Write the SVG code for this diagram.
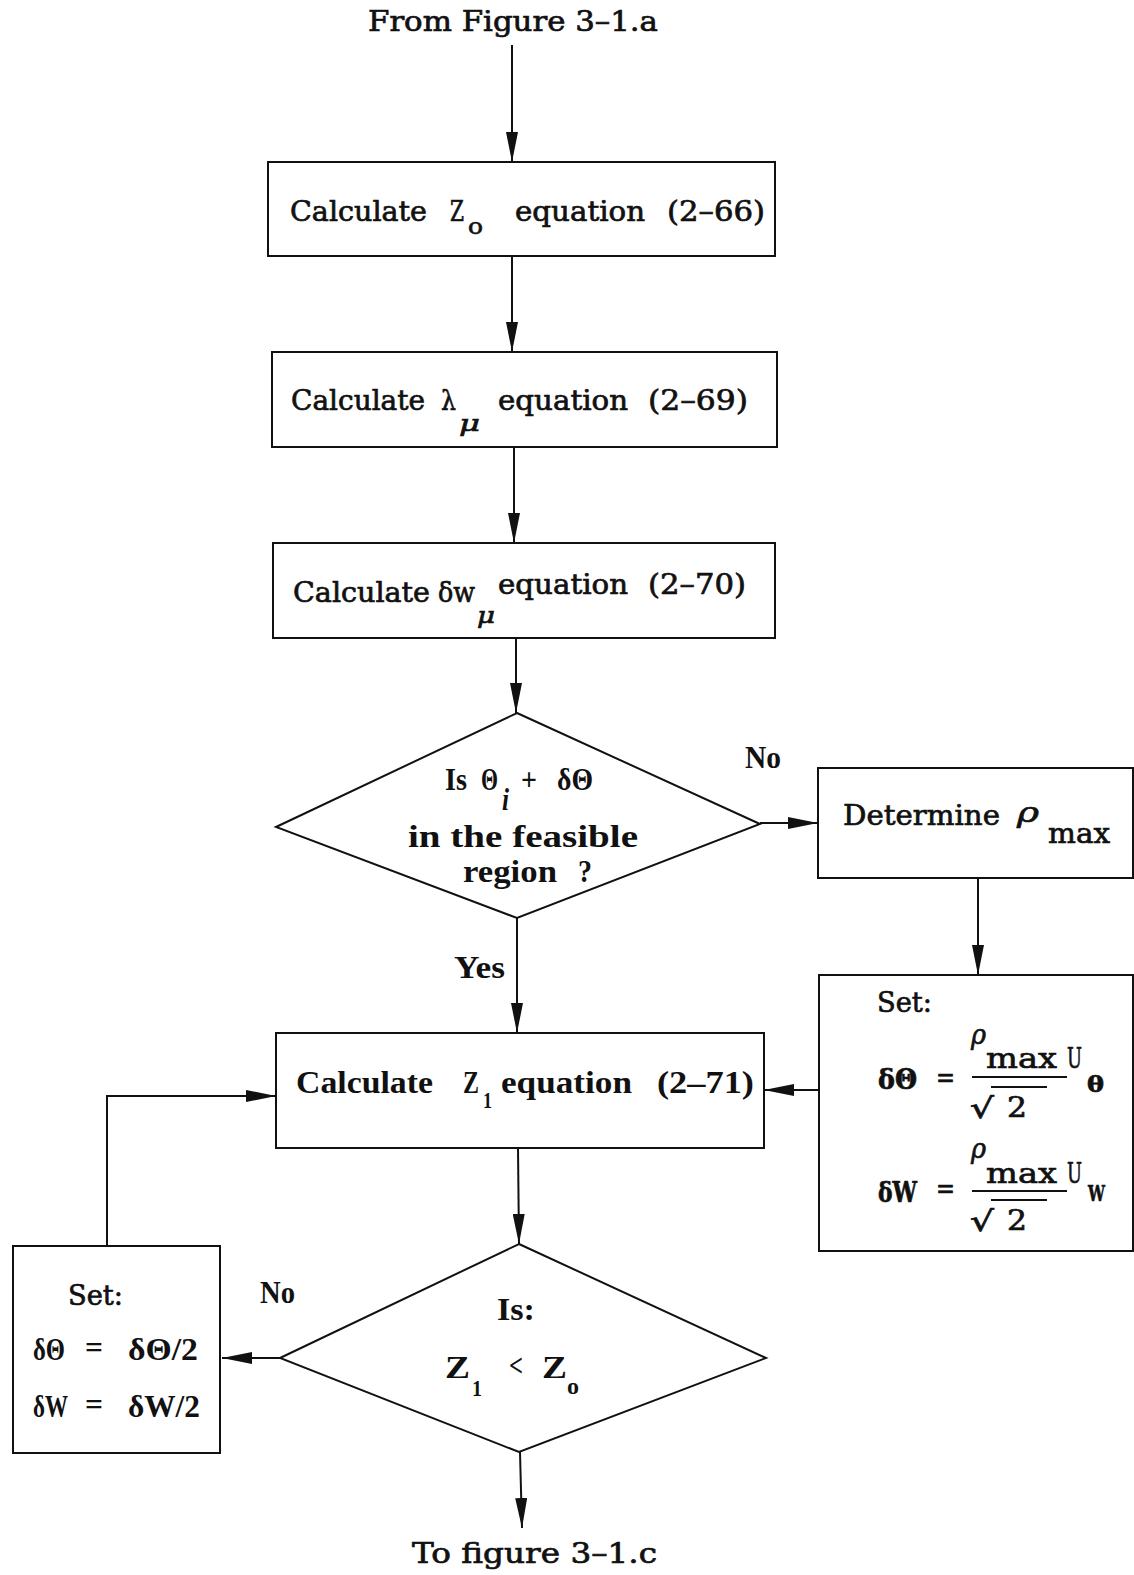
<svg xmlns="http://www.w3.org/2000/svg" width="1134" height="1575" viewBox="0 0 1134 1575">
<style>
.box{fill:#fff;stroke:#111;stroke-width:2}
.ln{fill:none;stroke:#111;stroke-width:2}
.arr{fill:none;stroke:#111;stroke-width:2;marker-end:url(#ah)}
.t{font-family:"DejaVu Serif",serif;font-size:28px;fill:#111;stroke:#111;stroke-width:0.7}
.c{font-family:"Liberation Serif",serif;font-weight:bold;font-size:31px;fill:#111}
.sub{font-size:23px}
.it{font-style:italic}
.b{font-weight:bold}
</style>
<defs>
<marker id="ah" markerUnits="userSpaceOnUse" viewBox="0 0 30 12" refX="30" refY="6" markerWidth="30" markerHeight="12" orient="auto">
<path d="M0,0 L30,6 L0,12 z" fill="#111"/>
</marker>
</defs>
<rect width="1134" height="1575" fill="#fff"/>

<g id="connectors">
<line class="arr" x1="512" y1="45" x2="512" y2="162"/>
<line class="arr" x1="512" y1="256" x2="512" y2="352"/>
<line class="arr" x1="514" y1="447" x2="514" y2="543"/>
<line class="arr" x1="516" y1="638" x2="516" y2="713"/>
<line class="arr" x1="760" y1="823" x2="818" y2="823"/>
<line class="arr" x1="978" y1="878" x2="978" y2="975"/>
<line class="arr" x1="819" y1="1090" x2="764" y2="1090"/>
<line class="arr" x1="517" y1="918" x2="517" y2="1033"/>
<line class="arr" x1="518" y1="1148" x2="519" y2="1244"/>
<line class="arr" x1="280" y1="1358" x2="222" y2="1358"/>
<polyline class="arr" points="107,1246 107,1096 276,1096"/>
<line class="arr" x1="520" y1="1452" x2="522" y2="1528"/>
<text class="c" x="745" y="768" textLength="36" lengthAdjust="spacingAndGlyphs">No</text>
<text class="c" x="454" y="978" textLength="51" lengthAdjust="spacingAndGlyphs">Yes</text>
<text class="c" x="260" y="1303" textLength="35" lengthAdjust="spacingAndGlyphs">No</text>
</g>

<g id="from">
<text class="t" x="368" y="31" textLength="290" lengthAdjust="spacingAndGlyphs">From Figure 3–1.a</text>
</g>

<g id="calc-z0">
<rect class="box" x="268" y="162" width="507" height="94"/>
<text class="t" x="290" y="221" textLength="137" lengthAdjust="spacingAndGlyphs">Calculate</text>
<text class="t" x="450" y="221" textLength="14" lengthAdjust="spacingAndGlyphs">Z</text>
<text class="t sub" x="468" y="234" textLength="15" lengthAdjust="spacingAndGlyphs">o</text>
<text class="t" x="515" y="221" textLength="130" lengthAdjust="spacingAndGlyphs">equation</text>
<text class="t" x="667" y="221" textLength="98" lengthAdjust="spacingAndGlyphs">(2–66)</text>
</g>

<g id="calc-lambda">
<rect class="box" x="272" y="352" width="505" height="95"/>
<text class="t" x="291" y="410" textLength="134" lengthAdjust="spacingAndGlyphs">Calculate</text>
<text class="t" x="441" y="410" textLength="15" lengthAdjust="spacingAndGlyphs">λ</text>
<text class="t sub it" x="459" y="431" textLength="21" lengthAdjust="spacingAndGlyphs">μ</text>
<text class="t" x="498" y="410" textLength="130" lengthAdjust="spacingAndGlyphs">equation</text>
<text class="t" x="648" y="410" textLength="100" lengthAdjust="spacingAndGlyphs">(2–69)</text>
</g>

<g id="calc-dw">
<rect class="box" x="273" y="543" width="502" height="95"/>
<text class="t" x="293" y="602" textLength="137" lengthAdjust="spacingAndGlyphs">Calculate</text>
<text class="t" x="438" y="602" textLength="37" lengthAdjust="spacingAndGlyphs">δw</text>
<text class="t sub it" x="477" y="623" textLength="18" lengthAdjust="spacingAndGlyphs">μ</text>
<text class="t" x="498" y="594" textLength="130" lengthAdjust="spacingAndGlyphs">equation</text>
<text class="t" x="648" y="594" textLength="98" lengthAdjust="spacingAndGlyphs">(2–70)</text>
</g>

<g id="feasible">
<polygon class="box" points="517,713 760,824 517,918 276,827"/>
<text class="c" x="445" y="790" textLength="22" lengthAdjust="spacingAndGlyphs">Is</text>
<text class="c" x="481" y="790" textLength="17" lengthAdjust="spacingAndGlyphs">Θ</text>
<text class="c it" x="502" y="810" font-size="20" textLength="7" lengthAdjust="spacingAndGlyphs">i</text>
<text class="c" x="521" y="790" textLength="16" lengthAdjust="spacingAndGlyphs">+</text>
<text class="c" x="557" y="790" textLength="36" lengthAdjust="spacingAndGlyphs">δΘ</text>
<text class="c" x="408" y="847" textLength="230" lengthAdjust="spacingAndGlyphs">in the feasible</text>
<text class="c" x="463" y="882" textLength="94" lengthAdjust="spacingAndGlyphs">region</text>
<text class="c" x="578" y="882" textLength="14" lengthAdjust="spacingAndGlyphs">?</text>
</g>

<g id="determine">
<rect class="box" x="818" y="768" width="315" height="110"/>
<text class="t" x="843" y="825" textLength="157" lengthAdjust="spacingAndGlyphs">Determine</text>
<text class="t it" x="1017" y="822" textLength="22" lengthAdjust="spacingAndGlyphs">ρ</text>
<text class="t" x="1048" y="843" textLength="62" lengthAdjust="spacingAndGlyphs">max</text>
</g>

<g id="set-rho">
<rect class="box" x="819" y="975" width="314" height="276"/>
<text class="t" x="877" y="1012" textLength="55" lengthAdjust="spacingAndGlyphs">Set:</text>
<text class="t b" x="878" y="1089" textLength="39" lengthAdjust="spacingAndGlyphs">δΘ</text>
<text class="t" x="936" y="1087" textLength="19" lengthAdjust="spacingAndGlyphs">=</text>
<text class="t it" x="971" y="1044" textLength="15" lengthAdjust="spacingAndGlyphs">ρ</text>
<text class="t" x="986" y="1068" textLength="71" lengthAdjust="spacingAndGlyphs">max</text>
<text class="t" x="1067" y="1068" textLength="15" lengthAdjust="spacingAndGlyphs">U</text>
<text class="t sub b" x="1087" y="1092" textLength="17" lengthAdjust="spacingAndGlyphs">θ</text>
<line class="ln" x1="972" y1="1077" x2="1067" y2="1077"/>
<text class="t" x="970" y="1118" textLength="24" lengthAdjust="spacingAndGlyphs">√</text>
<line class="ln" x1="991" y1="1087" x2="1047" y2="1087"/>
<text class="t" x="1007" y="1117" textLength="20" lengthAdjust="spacingAndGlyphs">2</text>
<text class="t b" x="878" y="1202" textLength="39" lengthAdjust="spacingAndGlyphs">δW</text>
<text class="t" x="936" y="1198" textLength="19" lengthAdjust="spacingAndGlyphs">=</text>
<text class="t it" x="971" y="1158" textLength="15" lengthAdjust="spacingAndGlyphs">ρ</text>
<text class="t" x="986" y="1183" textLength="71" lengthAdjust="spacingAndGlyphs">max</text>
<text class="t" x="1067" y="1183" textLength="15" lengthAdjust="spacingAndGlyphs">U</text>
<text class="t sub b" x="1088" y="1201" textLength="17" lengthAdjust="spacingAndGlyphs">W</text>
<line class="ln" x1="972" y1="1191" x2="1067" y2="1191"/>
<text class="t" x="970" y="1231" textLength="24" lengthAdjust="spacingAndGlyphs">√</text>
<line class="ln" x1="991" y1="1200" x2="1047" y2="1200"/>
<text class="t" x="1007" y="1230" textLength="20" lengthAdjust="spacingAndGlyphs">2</text>
</g>

<g id="calc-z1">
<rect class="box" x="276" y="1033" width="488" height="115"/>
<text class="c" x="296" y="1093" textLength="137" lengthAdjust="spacingAndGlyphs">Calculate</text>
<text class="c" x="463" y="1093" textLength="16" lengthAdjust="spacingAndGlyphs">Z</text>
<text class="c sub" x="483" y="1108" textLength="9" lengthAdjust="spacingAndGlyphs">1</text>
<text class="c" x="501" y="1093" textLength="131" lengthAdjust="spacingAndGlyphs">equation</text>
<text class="c" x="657" y="1093" textLength="97" lengthAdjust="spacingAndGlyphs">(2–71)</text>
</g>

<g id="z1-less-z0">
<polygon class="box" points="519,1244 766,1358 519,1452 280,1358"/>
<text class="c" x="497" y="1320" textLength="38" lengthAdjust="spacingAndGlyphs">Is:</text>
<text class="c" x="445" y="1378" textLength="25" lengthAdjust="spacingAndGlyphs">Z</text>
<text class="c sub" x="472" y="1396" textLength="10" lengthAdjust="spacingAndGlyphs">1</text>
<text class="c" x="509" y="1376" textLength="14" lengthAdjust="spacingAndGlyphs">&lt;</text>
<text class="c" x="542" y="1378" textLength="25" lengthAdjust="spacingAndGlyphs">Z</text>
<text class="c sub" x="567" y="1394" textLength="12" lengthAdjust="spacingAndGlyphs">o</text>
</g>

<g id="set-half">
<rect class="box" x="13" y="1246" width="207" height="207"/>
<text class="t" x="68" y="1305" textLength="55" lengthAdjust="spacingAndGlyphs">Set:</text>
<text class="c" x="33" y="1360" textLength="32" lengthAdjust="spacingAndGlyphs">δΘ</text>
<text class="c" x="85" y="1358" textLength="18" lengthAdjust="spacingAndGlyphs">=</text>
<text class="c" x="128" y="1360" textLength="70" lengthAdjust="spacingAndGlyphs">δΘ/2</text>
<text class="c" x="33" y="1417" textLength="35" lengthAdjust="spacingAndGlyphs">δW</text>
<text class="c" x="85" y="1415" textLength="18" lengthAdjust="spacingAndGlyphs">=</text>
<text class="c" x="128" y="1417" textLength="72" lengthAdjust="spacingAndGlyphs">δW/2</text>
</g>

<g id="to">
<text class="t" x="412" y="1563" textLength="245" lengthAdjust="spacingAndGlyphs">To figure 3–1.c</text>
</g>
</svg>
